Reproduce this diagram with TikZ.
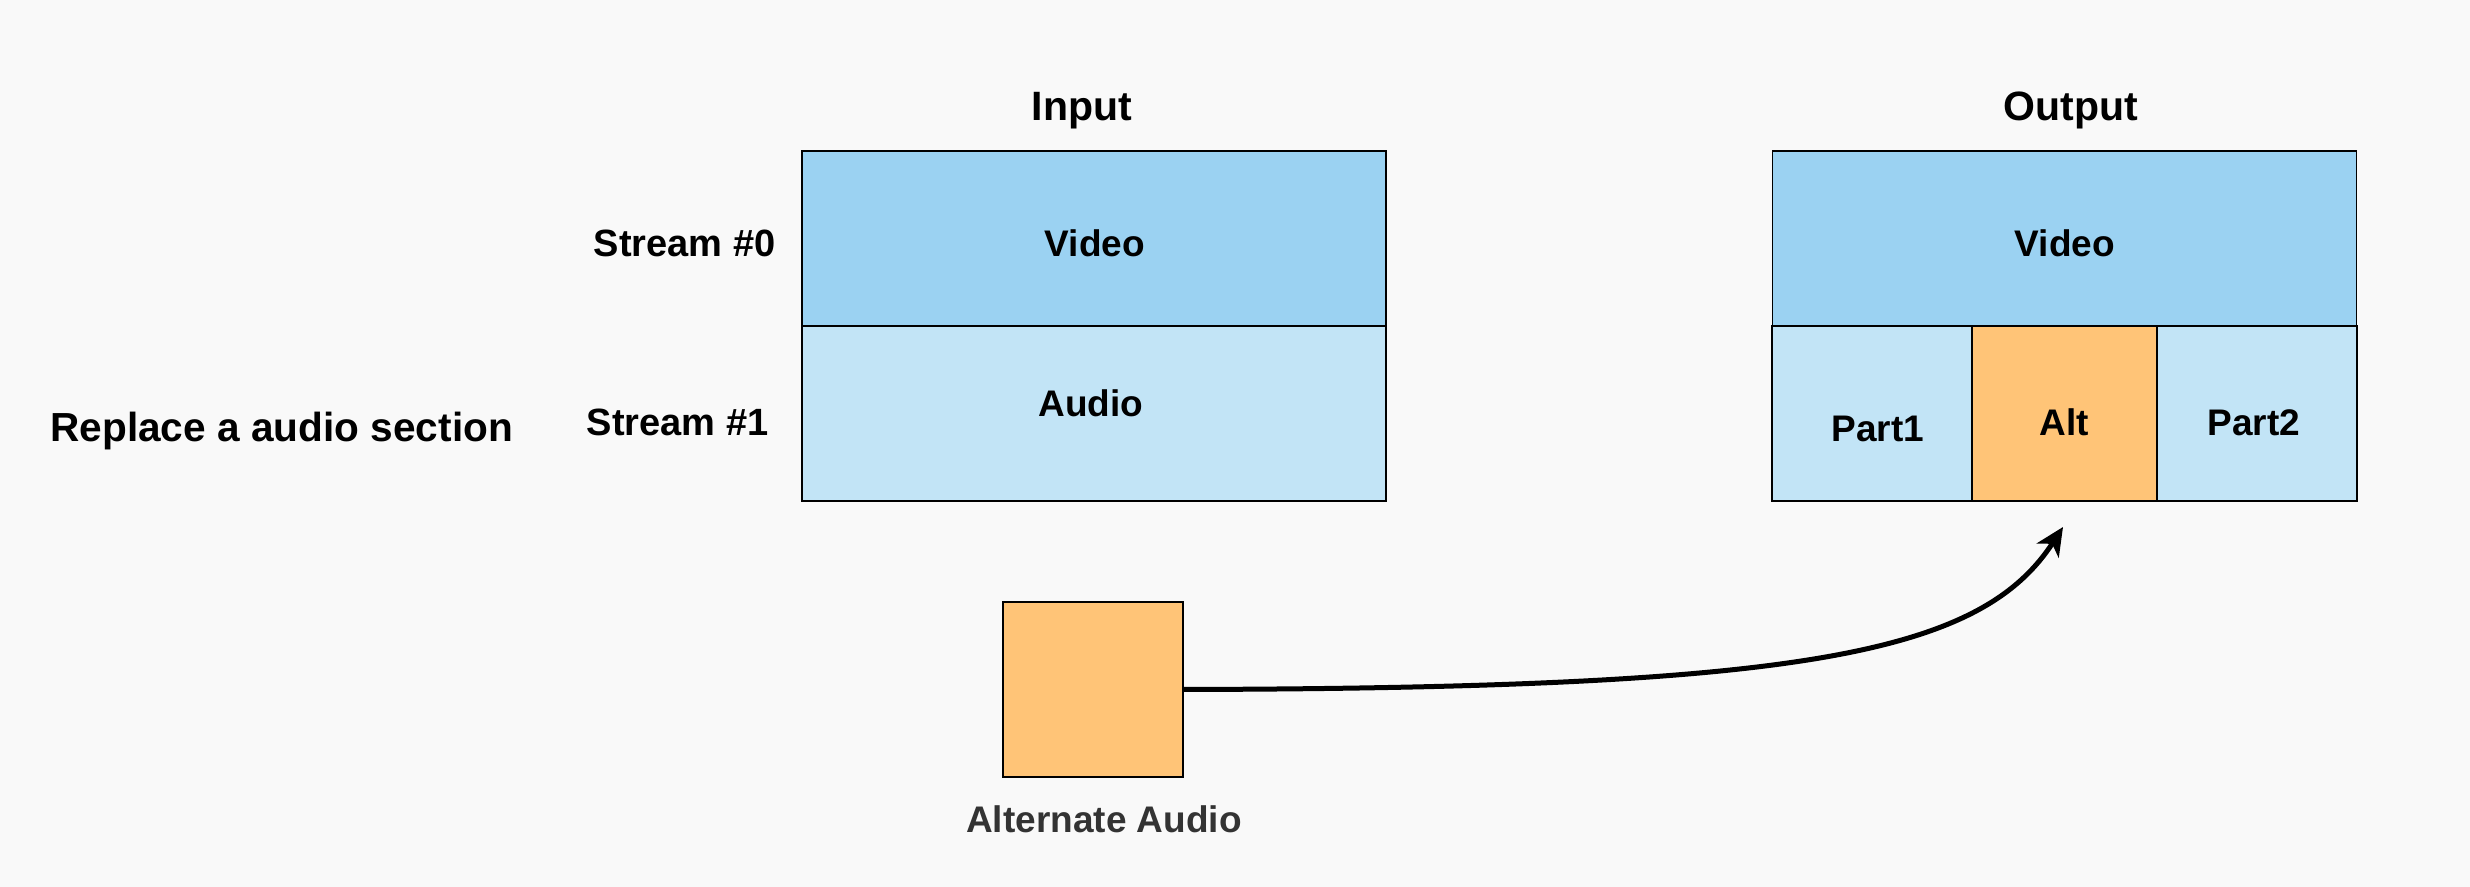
\documentclass[tikz,border=0pt]{standalone}
\usepackage{fontspec}
\setmainfont{Liberation Sans}
\usetikzlibrary{arrows.meta}
\definecolor{bgcol}{HTML}{F9F9F9}
\definecolor{videocol}{HTML}{9BD2F2}
\definecolor{audiocol}{HTML}{C2E4F6}
\definecolor{altcol}{HTML}{FFC477}
\definecolor{captcol}{HTML}{333333}

\begin{document}
\begin{tikzpicture}[x=0.5pt,y=-0.5pt]
      \fill[bgcol] (0,0) rectangle (2470,887);
      \begin{scope}[every node/.style={draw,line width=0.75pt,inner sep=0pt,minimum height=87.5pt}]
        \node[fill=videocol,minimum width=292pt] (invideo) at (1094,238.5) {};
        \node[fill=audiocol,minimum width=292pt] (inaudio) at (1094,413.5) {};
        \node[fill=videocol,minimum width=292pt] (outvideo) at (2064.5,238.5) {};
        \node[fill=audiocol,minimum width=100pt] (part1) at (1872,413.5) {};
        \node[fill=altcol,minimum width=92.5pt] (alt) at (2064.5,413.5) {};
        \node[fill=audiocol,minimum width=100pt] (part2) at (2257,413.5) {};
        \node[fill=altcol,minimum width=90pt] (altaudio) at (1093,689.5) {};
      \end{scope}
      \begin{scope}[every node/.style={inner sep=0pt,anchor=base,font=\bfseries\fontsize{18.5}{22}\selectfont}]
        \node[font=\bfseries\fontsize{20.5}{24}\selectfont] (intitle) at (1082,121) {Input};
        \node[font=\bfseries\fontsize{20.5}{24}\selectfont] (outtitle) at (2071,121) {Output};
        \node[anchor=base west,font=\bfseries\fontsize{20.3}{24}\selectfont] (task) at (50,442) {Replace a audio section};
        \node[anchor=base east,font=\bfseries\fontsize{19}{23}\selectfont] (stream0) at (776,257) {Stream \#0};
        \node[anchor=base east,font=\bfseries\fontsize{19}{23}\selectfont] (stream1) at (769,436) {Stream \#1};
        \node (invideotext) at (1095,257) {Video};
        \node (inaudiotext) at (1091,417) {Audio};
        \node (outvideotext) at (2065,257) {Video};
        \node (part1text) at (1878,442) {Part1};
        \node (alttext) at (2064,436) {Alt};
        \node (part2text) at (2254,436) {Part2};
        \node[text=captcol] (altaudiotext) at (1104,832) {Alternate Audio};
      \end{scope}
      \coordinate (tip) at (2063,527);
      \draw[line width=2.5pt,-{Stealth[length=14pt,width=13pt,inset=4pt]}]
        (altaudio.east) .. controls (1800,688) and (1980,655) .. (tip);
    \end{tikzpicture}
\end{document}
